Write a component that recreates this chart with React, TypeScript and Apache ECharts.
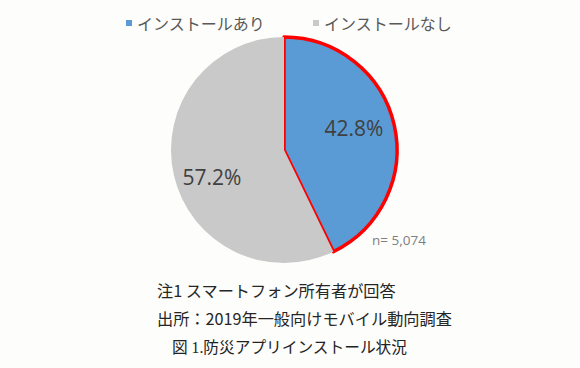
import React, { useEffect, useRef } from "react";
import * as echarts from "echarts";

const categories = ["インストールあり", "インストールなし"];
const values = [42.8, 57.2];
const colors = ["#5B9BD5", "#C9C9C9"];
const sampleNote = "n= 5,074";
const noteLines = ["注1 スマートフォン所有者が回答", "出所：2019年一般向けモバイル動向調査"];
const caption = "図 1.防災アプリインストール状況";

const JP = '"Noto Sans CJK JP", "Noto Sans", sans-serif';

export default function App() {
  const ref = useRef<HTMLDivElement>(null);
  useEffect(() => {
    document.body.style.margin = "0";
    const chart = echarts.init(ref.current!, null, { renderer: "svg" });
    chart.setOption({
      animation: false,
      backgroundColor: "#FDFDFB",
      legend: {
        data: categories,
        left: 121,
        top: 10,
        icon: "rect",
        itemWidth: 6,
        itemHeight: 6,
        itemGap: 48,
        itemStyle: { borderWidth: 0 },
        textStyle: { fontSize: 16, color: "#595959", fontFamily: JP },
      },
      series: [
        {
          type: "pie",
          center: [284, 150],
          radius: [0, 113],
          startAngle: 90,
          clockwise: true,
          data: categories.map((c, i) => ({
            name: c,
            value: values[i],
            itemStyle:
              i === 0
                ? { color: colors[i], borderColor: "#FF0000", borderWidth: 3.5 }
                : { color: colors[i], borderWidth: 0 },
          })),
          label: {
            show: true,
            position: "inside",
            formatter: (p: any) => p.value.toFixed(1) + "%",
            fontSize: 21,
            color: "#404040",
            fontFamily: '"Open Sans", "Noto Sans", sans-serif',
          },
          labelLayout: (p: any) =>
            p.dataIndex === 0 ? { dx: 12, dy: -9 } : { dx: -14, dy: 14 },
          labelLine: { show: false },
          emphasis: { disabled: true },
        },
      ],
      graphic: [
        {
          type: "text",
          left: 372,
          top: 233,
          style: { text: sampleNote, fontSize: 13.5, fill: "#7F7F7F", fontFamily: '"Open Sans", sans-serif' },
        },
        {
          type: "text",
          left: 157,
          top: 282,
          style: { text: noteLines[0], fontSize: 16.2, fill: "#262626", fontFamily: JP },
        },
        {
          type: "text",
          left: 157,
          top: 310,
          style: { text: noteLines[1], fontSize: 16.2, fill: "#262626", fontFamily: JP },
        },
        {
          type: "text",
          left: 172,
          top: 340,
          style: { text: caption, fontSize: 15.7, fill: "#222", fontFamily: '"Liberation Serif", "Noto Sans CJK JP", serif' },
        },
      ],
    });
    return () => chart.dispose();
  }, []);
  return (
    <div
      ref={ref}
      style={{ position: "absolute", left: 0, top: 0, width: 580, height: 368 }}
    />
  );
}
